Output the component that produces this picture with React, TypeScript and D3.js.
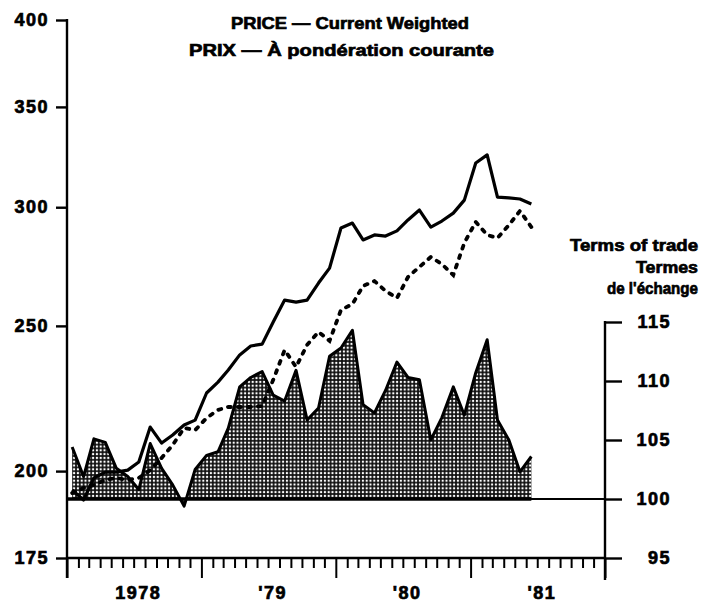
import React, { useRef, useEffect } from 'react';
import * as d3 from 'd3';

const width = 717;
const height = 603;

// monthly values, January 1978 to June 1981
const startYear = 1978;

// price, current weighted (solid line), left log axis
const priceSolid = [
  194.3, 191.3, 197.9, 199.7, 199.7, 200.3, 202.8, 214.0, 208.8, 211.4, 214.7, 216.3,
  225.5, 229.3, 233.6, 239.1, 242.4, 243.1, 251.5, 260.1, 259.3, 260.1, 267.0, 273.2,
  290.6, 292.8, 285.3, 287.5, 287.0, 289.3, 294.2, 298.7, 291.0, 293.7, 297.3, 303.3,
  321.1, 325.1, 304.7, 304.3, 303.8, 301.5,
];

// second price series (dotted line), left log axis
const priceDotted = [
  193.4, 194.9, 195.8, 197.3, 197.9, 197.3, 197.9, 200.3, 204.1, 208.2, 213.7, 213.0,
  217.0, 219.7, 220.7, 220.7, 220.7, 221.0, 230.1, 240.9, 234.7, 242.8, 247.7, 244.3,
  256.2, 258.5, 265.8, 267.8, 263.8, 260.9, 269.5, 273.7, 277.9, 274.9, 270.3, 284.0,
  293.3, 287.5, 286.1, 291.9, 298.3, 291.0,
];

// terms of trade (shaded area), right axis
const termsOfTrade = [
  104.4, 101.9, 105.1, 104.8, 102.6, 101.9, 100.8, 104.7, 102.6, 101.2, 99.4, 102.5,
  103.7, 104.0, 106.0, 109.5, 110.3, 110.8, 108.8, 108.3, 110.9, 106.7, 107.7, 112.1,
  112.8, 114.3, 108.0, 107.3, 109.2, 111.6, 110.3, 110.1, 105.0, 106.9, 109.5, 107.1,
  110.7, 113.5, 106.7, 105.0, 102.3, 103.6,
];

const leftTicks = [175, 200, 250, 300, 350, 400];
const rightTicks = [95, 100, 105, 110, 115];
const years = [1978, 1979, 1980, 1981];
const yearLabels = ['1978', "'79", "'80", "'81"];
const titleLines = ['PRICE — Current Weighted', 'PRIX — À pondération courante'];
const totLabels = ['Terms of trade', 'Termes', "de l'échange"];

const font = '"Liberation Sans", Arial, Helvetica, sans-serif';

// heavy bold look of the printed labels
const heavyText = (sel: any, size: number) =>
  sel
    .attr('fill', '#000')
    .attr('stroke', '#000')
    .attr('stroke-width', 0.7)
    .style('font-family', font)
    .style('font-weight', 'bold')
    .style('font-size', size + 'px');

function TradeChart() {
  const svgRef = useRef<SVGSVGElement>(null);

  useEffect(() => {
    const svg = d3.select(svgRef.current);
    svg.selectAll('*').remove();

    const x = d3.scaleTime()
      .domain([new Date(startYear, 0, 1), new Date(startYear + 4, 0, 1)])
      .range([67, 605]);
    const yL = d3.scaleLog().domain([175, 400]).range([558, 20]);
    const yR = d3.scaleLinear().domain([95, 115]).range([558, 322]);

    const month = (i: number) => new Date(startYear, i, 15);

    // halftone dots for the shaded area
    const pat = svg.append('defs').append('pattern')
      .attr('id', 'dots')
      .attr('patternUnits', 'userSpaceOnUse')
      .attr('width', 3.8)
      .attr('height', 3.8);
    pat.append('rect').attr('width', 3.8).attr('height', 3.8).attr('fill', '#111');
    pat.append('circle').attr('cx', 1.9).attr('cy', 1.9).attr('r', 1.2).attr('fill', '#fff');

    const base = yR(100);

    // terms of trade area
    const area = d3.area<number>()
      .x((d, i) => x(month(i)))
      .y0(base)
      .y1(d => yR(d));
    svg.append('path')
      .datum(termsOfTrade)
      .attr('d', area)
      .attr('fill', 'url(#dots)');

    const totLine = d3.line<number>()
      .x((d, i) => x(month(i)))
      .y(d => yR(d));
    svg.append('path')
      .datum(termsOfTrade)
      .attr('d', totLine)
      .attr('fill', 'none')
      .attr('stroke', '#000')
      .attr('stroke-width', 3)
      .attr('stroke-linejoin', 'round');

    // 100 line
    svg.append('line')
      .attr('x1', 67).attr('x2', 605)
      .attr('y1', base).attr('y2', base)
      .attr('stroke', '#000').attr('stroke-width', 2);
    svg.append('line')
      .attr('x1', 67).attr('x2', x(month(termsOfTrade.length - 1)))
      .attr('y1', base).attr('y2', base)
      .attr('stroke', '#000').attr('stroke-width', 3.4);

    // price lines
    const priceLine = d3.line<number>()
      .x((d, i) => x(month(i)))
      .y(d => yL(d));

    svg.append('path')
      .datum(priceDotted)
      .attr('d', priceLine)
      .attr('fill', 'none')
      .attr('stroke', '#000')
      .attr('stroke-width', 3.8)
      .attr('stroke-linecap', 'round')
      .attr('stroke-dasharray', '3,7');

    svg.append('path')
      .datum(priceSolid)
      .attr('d', priceLine)
      .attr('fill', 'none')
      .attr('stroke', '#000')
      .attr('stroke-width', 3.2)
      .attr('stroke-linejoin', 'round');

    // axes
    const styleAxis = (g: any) => {
      g.select('.domain').remove();
      g.selectAll('line').attr('stroke', '#000').attr('stroke-width', 2.4);
      g.selectAll('text')
        .call(heavyText, 18)
        .style('letter-spacing', '1.5px');
    };

    svg.append('g')
      .attr('transform', 'translate(67,0)')
      .call(d3.axisLeft(yL).tickValues(leftTicks).tickSize(11).tickPadding(7).tickFormat(d3.format('d')))
      .call(styleAxis);

    const gR = svg.append('g')
      .attr('transform', 'translate(605,0)')
      .call(d3.axisRight(yR).tickValues(rightTicks).tickSize(17).tickFormat(d3.format('d')))
      .call(styleAxis);
    gR.selectAll('text').attr('text-anchor', 'end').attr('x', 66);

    const gX = svg.append('g')
      .attr('transform', 'translate(0,558)')
      .call(d3.axisBottom(x).ticks(d3.timeMonth.every(1)).tickSize(10).tickFormat(() => ''))
      .call(styleAxis);
    gX.selectAll('.tick line')
      .attr('stroke-width', 2)
      .attr('y2', (d: any) => (d.getMonth() === 0 ? 20 : 10));

    // axis lines
    svg.append('line').attr('x1', 67).attr('x2', 67).attr('y1', 19).attr('y2', 578)
      .attr('stroke', '#000').attr('stroke-width', 2.4);
    svg.append('line').attr('x1', 605).attr('x2', 605).attr('y1', 321).attr('y2', 580)
      .attr('stroke', '#000').attr('stroke-width', 2.4);
    svg.append('line').attr('x1', 66).attr('x2', 606).attr('y1', 558).attr('y2', 558)
      .attr('stroke', '#000').attr('stroke-width', 2.4);

    // year labels
    svg.append('g')
      .selectAll('text')
      .data(years)
      .join('text')
      .attr('x', d => (x(new Date(d, 0, 1)) + x(new Date(d + 1, 0, 1))) / 2 + 4)
      .attr('y', 599)
      .attr('text-anchor', 'middle')
      .call(heavyText, 18)
      .style('letter-spacing', '1.5px')
      .text((d, i) => yearLabels[i]);

    // titles
    const titlePos = [[231, 29, 238], [189, 56, 305]];
    svg.append('g')
      .selectAll('text')
      .data(titleLines)
      .join('text')
      .attr('x', (d, i) => titlePos[i][0])
      .attr('y', (d, i) => titlePos[i][1])
      .attr('textLength', (d, i) => titlePos[i][2])
      .attr('lengthAdjust', 'spacingAndGlyphs')
      .call(heavyText, 17)
      .text(d => d);

    const totPos = [[570, 251, 128], [636, 273, 62], [607, 294, 91]];
    svg.append('g')
      .selectAll('text')
      .data(totLabels)
      .join('text')
      .attr('x', (d, i) => totPos[i][0])
      .attr('y', (d, i) => totPos[i][1])
      .attr('textLength', (d, i) => totPos[i][2])
      .attr('lengthAdjust', 'spacingAndGlyphs')
      .call(heavyText, 17)
      .text(d => d);
  }, []);

  return (
    <svg
      ref={svgRef}
      width={width}
      height={height}
      style={{ position: 'absolute', left: 0, top: 0, background: '#fff' }}
    />
  );
}

export default function App() {
  return <TradeChart />;
}
